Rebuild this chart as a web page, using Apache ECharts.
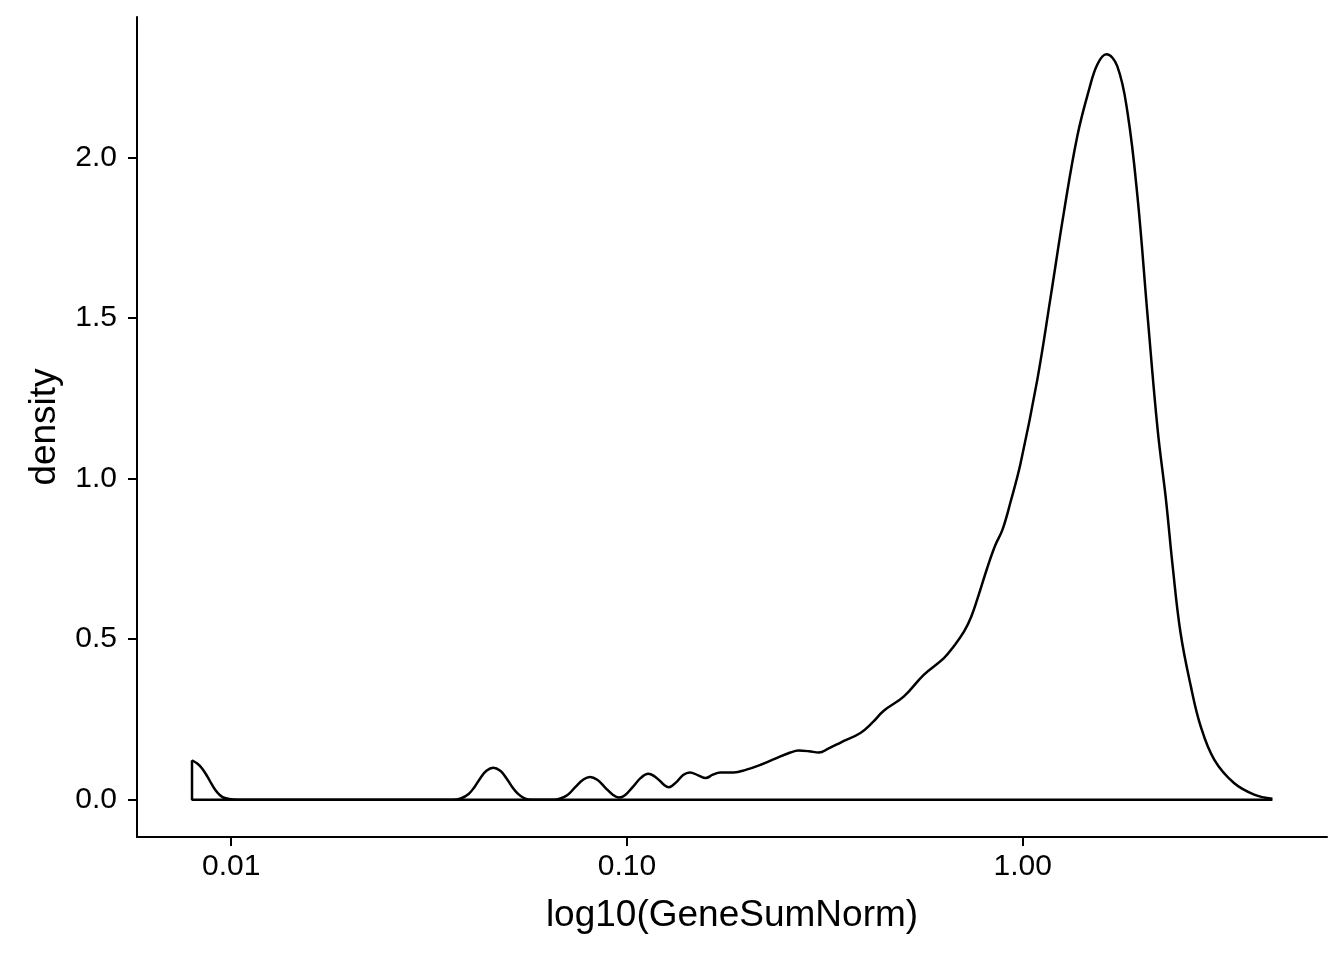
<!DOCTYPE html>
<html>
<head>
<meta charset="utf-8">
<script src="https://cdn.jsdelivr.net/npm/echarts@6/dist/echarts.min.js"></script>
<style>
html,body{margin:0;padding:0;background:#fff;}
#chart{width:1344px;height:960px;}
</style>
</head>
<body>
<div id="chart"></div>
<script>
// x positions in log10(GeneSumNorm) units, density values
const logX = [
  -2.099, -2.085, -2.074, -2.060, -2.050, -2.040, -2.030, -2.020, -2.005, -1.985,
  -1.700, -1.450, -1.440, -1.420, -1.400, -1.385, -1.370, -1.355, -1.338, -1.320,
  -1.305, -1.290, -1.275, -1.260, -1.240, -1.185, -1.170, -1.150, -1.130, -1.110,
  -1.093, -1.075, -1.055, -1.035, -1.020, -1.005, -0.985, -0.965, -0.946, -0.925,
  -0.905, -0.894, -0.875, -0.858, -0.841, -0.820, -0.801, -0.783, -0.764, -0.730,
  -0.700, -0.662, -0.625, -0.587, -0.566, -0.540, -0.515, -0.490, -0.460, -0.410,
  -0.380, -0.351, -0.300, -0.250, -0.199, -0.174, -0.148, -0.130, -0.115, -0.090,
  -0.070, -0.051, -0.030, -0.005, 0.037, 0.071, 0.104, 0.138, 0.168, 0.189,
  0.2115, 0.239, 0.265, 0.290, 0.315, 0.341, 0.362, 0.379, 0.399, 0.425,
  0.450, 0.484, 0.534, 0.585, 0.631
];
const density = [
  0.123, 0.112, 0.098, 0.072, 0.050, 0.030, 0.016, 0.007, 0.002, 0.000,
  0.000, 0.000, 0.000, 0.004, 0.018, 0.040, 0.068, 0.090, 0.0995, 0.090,
  0.068, 0.040, 0.018, 0.005, 0.000, 0.000, 0.003, 0.015, 0.040, 0.063,
  0.071, 0.062, 0.038, 0.015, 0.007, 0.014, 0.040, 0.068, 0.081, 0.068,
  0.045, 0.039, 0.055, 0.077, 0.085, 0.076, 0.0675, 0.078, 0.085, 0.085,
  0.093, 0.109, 0.128, 0.147, 0.153, 0.151, 0.147, 0.160, 0.178, 0.208,
  0.240, 0.277, 0.322, 0.389, 0.441, 0.478, 0.524, 0.570, 0.623, 0.720,
  0.790, 0.841, 0.930, 1.049, 1.308, 1.568, 1.828, 2.066, 2.212, 2.290,
  2.321, 2.284, 2.139, 1.879, 1.516, 1.153, 0.935, 0.727, 0.519, 0.353,
  0.228, 0.125, 0.052, 0.016, 0.003
];
const xTickValues = [-2, -1, 0];
const xTickLabels = ['0.01', '0.10', '1.00'];
const yTickValues = [0, 0.5, 1.0, 1.5, 2.0];
const yTickLabels = ['0.0', '0.5', '1.0', '1.5', '2.0'];

const curve = logX.map((x, i) => [x, density[i]]);
const last = logX.length - 1;
const outline = [[logX[last], 0], [logX[0], 0], [logX[0], density[0]]];

const FONT = '"Liberation Sans", Arial, Helvetica, sans-serif';
const chart = echarts.init(document.getElementById('chart'), null, {renderer: 'canvas'});
chart.setOption({
  animation: false,
  backgroundColor: '#ffffff',
  grid: {left: 137, right: 17, top: 17, bottom: 123, containLabel: false, outerBoundsMode: 'none'},
  xAxis: {
    type: 'value',
    min: -2.238, max: 0.769,
    name: 'log10(GeneSumNorm)',
    nameLocation: 'middle',
    nameGap: 60,
    nameTextStyle: {fontFamily: FONT, fontSize: 37, color: '#000'},
    axisLine: {show: true, onZero: false, lineStyle: {color: '#000', width: 2}},
    axisTick: {show: true, length: 9, customValues: xTickValues, lineStyle: {color: '#000', width: 2}},
    axisLabel: {
      show: true, margin: 15, customValues: xTickValues,
      fontFamily: FONT, fontSize: 30, color: '#000',
      formatter: v => { const i = xTickValues.findIndex(t => Math.abs(t - v) < 1e-9); return i >= 0 ? xTickLabels[i] : ''; }
    },
    splitLine: {show: false}
  },
  yAxis: {
    type: 'value',
    min: -0.116, max: 2.437,
    name: 'density',
    nameLocation: 'middle',
    nameGap: 74,
    nameRotate: 90,
    nameTextStyle: {fontFamily: FONT, fontSize: 37, color: '#000'},
    axisLine: {show: true, onZero: false, lineStyle: {color: '#000', width: 2}},
    axisTick: {show: true, length: 9, customValues: yTickValues, lineStyle: {color: '#000', width: 2}},
    axisLabel: {
      show: true, margin: 20, customValues: yTickValues,
      fontFamily: FONT, fontSize: 30, color: '#000',
      formatter: v => { const i = yTickValues.findIndex(t => Math.abs(t - v) < 1e-9); return i >= 0 ? yTickLabels[i] : ''; }
    },
    splitLine: {show: false}
  },
  series: [
    {
      type: 'line', data: curve, smooth: 0.4,
      showSymbol: false, symbol: 'none',
      lineStyle: {color: '#000', width: 2.5}, z: 3
    },
    {
      type: 'line', data: outline, smooth: false,
      showSymbol: false, symbol: 'none',
      lineStyle: {color: '#000', width: 2.5}, z: 3
    }
  ]
});
</script>
</body>
</html>
